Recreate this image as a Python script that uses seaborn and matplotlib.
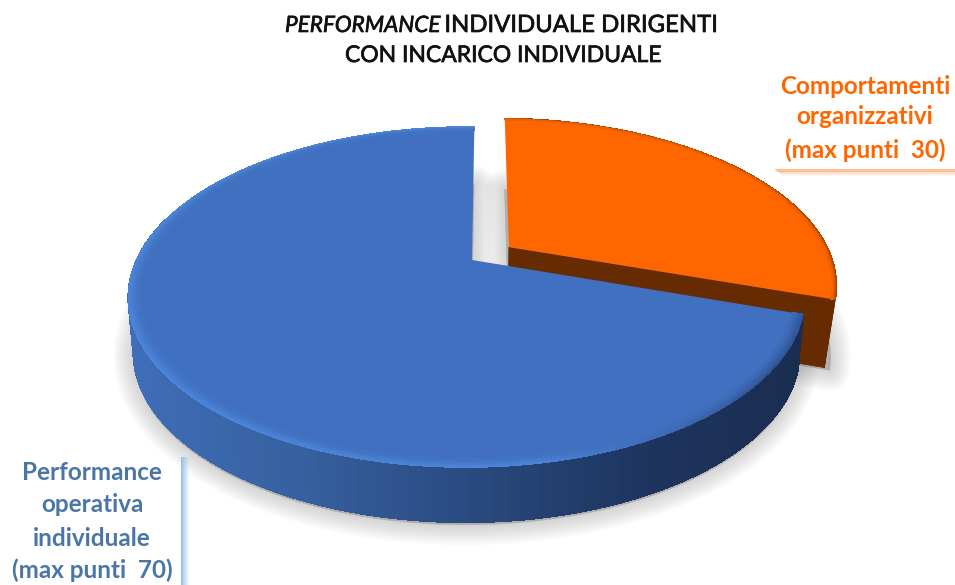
import numpy as np
import matplotlib
matplotlib.use("Agg")
import matplotlib.pyplot as plt
import matplotlib.patheffects as pe
import matplotlib.transforms as mtransforms
from matplotlib.collections import PolyCollection
from matplotlib.patches import Polygon, Rectangle
import seaborn as sns

# data
categories = ["Comportamenti organizzativi", "Performance operativa individuale"]
values = [30, 70]
explode = [0.14, 0]
label_orange = ["Comportamenti", "organizzativi", "(max punti  30)"]
label_blue = ["Performance", "operativa", "individuale", "(max punti  70)"]

top_colors = ["#ff6600", "#4070bf"]
blue_side = ["#3f6db8", "#36609f", "#2a4a80", "#1e3560", "#1a2d50"]
brown = "#662b00"

# how the flat pie is laid over the page (pixels)
cx, cy = 472, 260
a, b = 330, 162
k, m = 0.2176, 0.0155
depth = 55
shrink = 0.985


class Perspective(mtransforms.Transform):
    input_dims = 2
    output_dims = 2

    def transform_non_affine(self, values):
        pts = np.asarray(values, dtype=float)
        w = 1 + k * pts[:, 1] + m * pts[:, 0]
        return np.column_stack([cx + a * pts[:, 0] / w, cy - b * pts[:, 1] / w])


persp = Perspective()


def arc(wedge, r=1.0, n=160):
    t = np.deg2rad(np.linspace(wedge.theta1, wedge.theta2, n))
    uv = np.column_stack([wedge.center[0] + r * np.cos(t), wedge.center[1] + r * np.sin(t)])
    return persp.transform(uv)


def lower(xy, d=depth, s=shrink):
    return np.column_stack([cx + (xy[:, 0] - cx) * s, xy[:, 1] + d])


def apex(wedge):
    return persp.transform(np.array([wedge.center]))


def rim(ax, wedge, color_fn, z, width):
    # soft bevel just inside the outer edge
    radii = 1 - width * np.arange(6) / 5
    for i in range(len(radii) - 1):
        outer, inner = arc(wedge, radii[i]), arc(wedge, radii[i + 1])
        quads = [np.vstack([outer[j], outer[j + 1], inner[j + 1], inner[j]]) for j in range(len(outer) - 1)]
        cols = [color_fn(0.5 * (outer[j][0] + outer[j + 1][0]), 1 - i / 5) for j in range(len(outer) - 1)]
        ax.add_collection(PolyCollection(quads, facecolors=cols, edgecolors=cols, linewidths=0.4,
                                         antialiaseds=False, zorder=z))


def mix(c1, c2, t):
    c1, c2 = np.array(matplotlib.colors.to_rgb(c1)), np.array(matplotlib.colors.to_rgb(c2))
    return tuple(c2 + (c1 - c2) * t)


sns.set_theme(style="white")
plt.rcParams["font.family"] = ["Lato", "DejaVu Sans"]

fig = plt.figure(figsize=(9.55, 5.85), dpi=100)
ax = fig.add_axes([0, 0, 1, 1])

wedges, _ = ax.pie(values, explode=explode, colors=top_colors, startangle=89.5, counterclock=False,
                   wedgeprops={"linewidth": 0})
ax.set_aspect("auto")
ax.set_xlim(0, 955)
ax.set_ylim(585, 0)
ax.axis("off")

orange, blue = wedges
for w in wedges:
    w.set_transform(persp + ax.transData)
orange.set_zorder(5)
blue.set_zorder(8)

# shadow under the pie
for w in wedges:
    d = 68 if w is orange else depth
    outline = lower(np.vstack([apex(w), arc(w)]), d=d)
    outline[:, 1] += 3
    for i in range(10):
        ax.add_patch(Polygon(outline, closed=True, facecolor="k", edgecolor="k", alpha=0.02,
                             lw=i * 3.2, joinstyle="round", zorder=1))

# orange slice: cut face and outer wall, a bit deeper than the blue one as it sits further out
tip, edge = apex(orange), arc(orange)
end = edge[-1] if edge[-1][1] > edge[0][1] else edge[0]
face = np.vstack([tip, end, lower(end[None], 68, 0.97), lower(tip, 68, 0.97)])
ax.add_patch(Polygon(face, closed=True, facecolor=brown, edgecolor=brown, lw=0.5, zorder=3))
edge = edge[edge[:, 0] > 700]
wall = np.vstack([edge, lower(edge, 68, 0.97)[::-1]])
ax.add_patch(Polygon(wall, closed=True, facecolor=brown, edgecolor=brown, lw=0.5, zorder=3))

# blue slice: outer wall with a left to right gradient, only the front part shows
edge = arc(blue, n=500)
low = lower(edge)
pal = sns.blend_palette(blue_side, n_colors=128)
quads, cols = [], []
for j in range(len(edge) - 1):
    if edge[j][1] < 220:
        continue
    quads.append(np.vstack([edge[j], edge[j + 1], low[j + 1], low[j]]))
    frac = (edge[j][0] - edge[:, 0].min()) / np.ptp(edge[:, 0])
    cols.append(pal[int(frac * 127)])
ax.add_collection(PolyCollection(quads, facecolors=cols, edgecolors=cols, linewidths=0.8,
                                 antialiaseds=False, zorder=6))


def blue_rim(x, t):
    frac = np.clip((x - 128) / 680, 0, 1)
    edge_col = mix("#2f5596", "#4c84d8", np.clip((frac - 0.6) / 0.35, 0, 1))
    return mix(edge_col, top_colors[1], t)


def orange_rim(x, t):
    return mix("#a84400", top_colors[0], t)


rim(ax, blue, blue_rim, 9, 0.03)
rim(ax, orange, orange_rim, 5.5, 0.012)

# title, the stroke thickens the regular weight a little
stroke = [pe.withStroke(linewidth=0.5, foreground="#111111")]
title_kw = dict(color="#111111", va="baseline", zorder=20, path_effects=stroke)
t1 = ax.text(285, 32, "PERFORMANCE", fontstyle="italic", fontsize=16.2, **title_kw)
fig.canvas.draw()
x_end = ax.transData.inverted().transform(t1.get_window_extent().get_points())[1, 0]
ax.text(x_end + 4, 32, "INDIVIDUALE DIRIGENTI", fontsize=17.2, **title_kw)
ax.text(503.5, 62, "CON INCARICO INDIVIDUALE", ha="center", fontsize=16.5, **title_kw)

# label boxes with a soft coloured edge
for i in range(8):
    ax.add_patch(Rectangle((775 + i, 169 + i * 0.8), 180, 1, facecolor="#f9a66c", alpha=0.75 * (1 - i / 8), lw=0, zorder=2))
    ax.add_patch(Rectangle((181 + i, 457), 1, 128, facecolor="#8fbde4", alpha=0.9 * (1 - i / 8), lw=0, zorder=2))

for line, y in zip(label_orange, [86, 117, 150]):
    ax.text(865, y, line, ha="center", va="center", fontsize=17.5, fontweight="bold", color="#ff6600", zorder=20)
for line, y in zip(label_blue, [473, 505, 538, 570]):
    ax.text(92, y, line, ha="center", va="center", fontsize=17.5, fontweight="bold", color="#4a76a6", zorder=20)

fig.savefig("out.png", dpi=100)
